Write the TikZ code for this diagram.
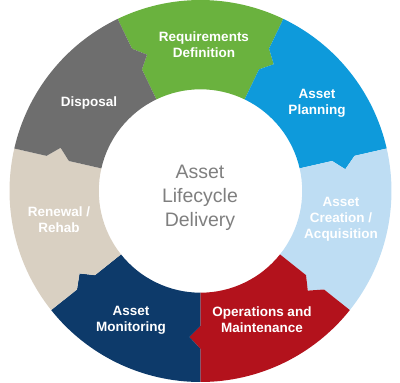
\documentclass[tikz,border=0pt]{standalone}
\usepackage{fontspec}
\setmainfont{Liberation Sans}
\usetikzlibrary{calc}
\definecolor{cgreen}{HTML}{6AB23E}
\definecolor{cblue}{HTML}{0E9ADB}
\definecolor{clblue}{HTML}{BEDDF3}
\definecolor{cred}{HTML}{B3121C}
\definecolor{cnavy}{HTML}{0D3A6A}
\definecolor{cbeige}{HTML}{D9D0C2}
\definecolor{cgray}{HTML}{6E6E6E}
\definecolor{ctext}{HTML}{7F7F7F}
\tikzset{
  seglabel/.style={text=white, font=\fontsize{13.5}{16}\selectfont\bfseries, align=center, inner sep=0pt},
  centerlabel/.style={text=ctext, font=\fontsize{19.5}{24}\selectfont, align=center, inner sep=0pt}
}
\newcommand{\mysegment}[3]{%
  \pgfmathsetmacro{\ta}{#1-90}%
  \pgfmathsetmacro{\tb}{#2-90}%
  \fill[#3] (#1:191pt) arc[start angle=#1, end angle=#2, radius=191pt]
   -- (#2:158pt) -- ($(#2:146pt)+(\tb:11pt)$) -- (#2:135pt) -- (#2:101.7pt)
   arc[start angle=#2, end angle=#1, radius=101.7pt]
   -- (#1:135pt) -- ($(#1:146pt)+(\ta:11pt)$) -- (#1:158pt) -- cycle;}
\begin{document}
\begin{tikzpicture}[x=1pt,y=1pt]
\useasboundingbox (-200.5,-192) rectangle (199.5,191);
\mysegment{115.714}{64.286}{cgreen}
\mysegment{64.286}{12.857}{cblue}
\mysegment{12.857}{-38.571}{clblue}
\mysegment{-38.571}{-90}{cred}
\mysegment{-90}{-141.429}{cnavy}
\mysegment{-141.429}{-192.857}{cbeige}
\mysegment{167.143}{115.714}{cgray}
\node[seglabel] (req) at (3.5,146) {Requirements\\Definition};
\node[seglabel] (plan) at (116.5,88) {Asset\\Planning};
\node[seglabel] (create) at (140.5,-28) {Asset\\Creation /\\Acquisition};
\node[seglabel] (ops) at (61.5,-129) {Operations and\\Maintenance};
\node[seglabel] (mon) at (-69.5,-129) {Asset\\Monitoring};
\node[seglabel] (ren) at (-141.5,-29) {Renewal /\\Rehab};
\node[seglabel] (disp) at (-111.5,88) {Disposal};
\node[centerlabel] (center) at (-0.5,-7) {Asset\\Lifecycle\\Delivery};
\end{tikzpicture}
\end{document}
